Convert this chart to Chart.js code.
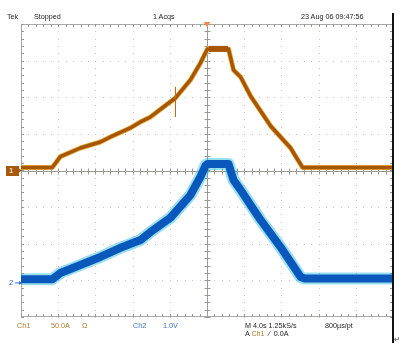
<!DOCTYPE html>
<html>
<head>
<meta charset="utf-8">
<script src="https://cdn.jsdelivr.net/npm/chart.js@4/dist/chart.umd.min.js"></script>
<style>
  html, body { margin: 0; padding: 0; background: #ffffff; }
  #wrap { position: relative; width: 405px; height: 345px; overflow: hidden; background: #fff; }
  #wrap canvas { position: absolute; left: 0; top: 0; }
  .t { position: absolute; font-family: "Liberation Sans", Arial, sans-serif; font-size: 8px; line-height: 10px; white-space: nowrap; color: #222; transform-origin: 0 50%; transform: scaleX(0.9); }
  .c1 { color: #b07a28; }
  .c2 { color: #3a6fc4; }
  #m1 { position: absolute; left: 6px; width: 13px; height: 10px; background: #a8580c; color: #fff; font-family: "Liberation Sans", Arial, sans-serif; font-size: 8px; line-height: 10px; padding-left: 3px; box-sizing: border-box; }
  #m2 { position: absolute; left: 9px; color: #3a6fc4; font-family: "Liberation Sans", Arial, sans-serif; font-size: 8px; line-height: 10px; }
  #edge { position: absolute; left: 392px; top: 13px; width: 1.5px; height: 330px; background: #111; }
</style>
</head>
<body>
<div id="wrap">
  <canvas id="c" width="405" height="345"></canvas>
  <div id="edge"></div>
  <div class="t" style="left:7px;top:12px;">Tek</div>
  <div class="t" style="left:34px;top:12px;">Stopped</div>
  <div class="t" style="left:153px;top:12px;">1 Acqs</div>
  <div class="t" style="left:301px;top:12px;">23 Aug 06 09:47:56</div>
  <div class="t c1" style="left:17px;top:321px;">Ch1</div>
  <div class="t c1" style="left:51px;top:321px;">50.0A</div>
  <div class="t c1" style="left:82px;top:321px;">Ω</div>
  <div class="t c2" style="left:133px;top:321px;">Ch2</div>
  <div class="t c2" style="left:163px;top:321px;">1.0V</div>
  <div class="t" style="left:245px;top:321px;">M 4.0s 1.25kS/s</div>
  <div class="t" style="left:325px;top:321px;">800µs/pt</div>
  <div class="t" style="left:245px;top:329px;">A <span class="c1">Ch1</span> &nbsp;⁄ &nbsp;0.0A</div>
  <div class="t" style="left:394px;top:335px;color:#444;">↵</div>
  <div id="m1">1</div>
  <div id="m2">2</div>
</div>
<script>
// Channel settings
const ch1Pos = 0.0;      // divisions
const ch1Scale = 50.0;   // A per division
const ch2Pos = -3.07;    // divisions
const ch2Scale = 1.0;    // V per division

// Ch1 (current, A) vs time (s)
const ch1Time = [-20, -16.64, -15.77, -13.62, -11.47, -10.39, -8.24, -7.16, -6.08, -4.68, -3.39, -1.78, -0.70, 0.05, 2.31, 2.85, 3.61, 4.68, 5.76, 6.84, 7.91, 8.99, 9.64, 10.28, 20];
const ch1Amps = [4.1, 4.1, 18.9, 30.7, 38.9, 45.8, 58.1, 66.3, 73.1, 86.7, 99.0, 123.6, 146.9, 166.0, 166.0, 137.3, 127.7, 101.8, 81.3, 60.8, 45.8, 30.7, 17.1, 4.1, 4.1];

// Ch1 flat top (noisier, thicker band)
const ch1TopTime = [0.2, 2.25];
const ch1TopAmps = [166.0, 166.0];

// Ch1 narrow glitch
const ch1GlitchTime = [-3.39, -3.39];
const ch1GlitchAmps = [114.0, 73.0];

// Ch2 (voltage, V) vs time (s)
const ch2Time = [-20, -16.64, -15.77, -13.62, -11.47, -9.31, -7.16, -6.08, -3.93, -1.78, -0.70, -0.16, 0.05, 2.31, 2.85, 3.61, 4.68, 5.76, 7.91, 10.07, 10.50, 20];
const ch2Volts = [0.10, 0.10, 0.27, 0.49, 0.71, 0.96, 1.17, 1.39, 1.78, 2.40, 2.90, 3.20, 3.25, 3.25, 2.81, 2.54, 2.13, 1.72, 0.98, 0.16, 0.12, 0.12];

const toPts = (ts, vs, pos, sc) => ts.map((t, i) => ({ x: t, y: vs[i] / sc + pos }));

const graticule = {
  id: 'graticule',
  beforeDatasetsDraw(chart) {
    const { ctx, chartArea: a, scales: { x, y } } = chart;
    ctx.save();
    ctx.fillStyle = '#c4c4c4';
    for (let d = -16; d <= 16; d += 4) {
      if (d === 0) continue;
      const px = Math.round(x.getPixelForValue(d));
      for (let v = -4; v <= 4.001; v += 0.2) {
        ctx.fillRect(px, Math.round(y.getPixelForValue(v)), 1, 1);
      }
    }
    for (let d = -3; d <= 3; d += 1) {
      if (d === 0) continue;
      const py = Math.round(y.getPixelForValue(d));
      for (let t = -20; t <= 20.001; t += 0.8) {
        ctx.fillRect(Math.round(x.getPixelForValue(t)), py, 1, 1);
      }
    }
    ctx.strokeStyle = '#a9a9a9';
    ctx.lineWidth = 1;
    ctx.strokeRect(Math.round(a.left) + 0.5, Math.round(a.top) + 0.5, Math.round(a.right - a.left) - 1, Math.round(a.bottom - a.top) - 1);
    const cx = Math.round(x.getPixelForValue(0)) + 0.5;
    const cy = Math.round(y.getPixelForValue(0)) + 0.5;
    ctx.strokeStyle = '#9a9a92';
    ctx.beginPath();
    ctx.moveTo(cx, a.top); ctx.lineTo(cx, a.bottom);
    ctx.moveTo(a.left, cy); ctx.lineTo(a.right, cy);
    for (let t = -20; t <= 20.001; t += 0.8) {
      const px = Math.round(x.getPixelForValue(t)) + 0.5;
      ctx.moveTo(px, cy - 3); ctx.lineTo(px, cy + 3);
      ctx.moveTo(px, a.top); ctx.lineTo(px, a.top + 3);
      ctx.moveTo(px, a.bottom); ctx.lineTo(px, a.bottom - 3);
    }
    for (let v = -4; v <= 4.001; v += 0.2) {
      const py = Math.round(y.getPixelForValue(v)) + 0.5;
      ctx.moveTo(cx - 3, py); ctx.lineTo(cx + 3, py);
      ctx.moveTo(a.left, py); ctx.lineTo(a.left + 3, py);
      ctx.moveTo(a.right, py); ctx.lineTo(a.right - 3, py);
    }
    ctx.stroke();
    ctx.restore();
  },
  afterDraw(chart) {
    const { ctx, chartArea: a, scales: { x, y } } = chart;
    ctx.save();
    const tx = x.getPixelForValue(0);
    ctx.fillStyle = '#f08a4a';
    ctx.beginPath();
    ctx.moveTo(tx - 3.5, a.top - 2); ctx.lineTo(tx + 3.5, a.top - 2); ctx.lineTo(tx, a.top + 3); ctx.closePath();
    ctx.fill();
    const y1 = y.getPixelForValue(ch1Pos);
    ctx.strokeStyle = '#a8580c'; ctx.fillStyle = '#a8580c';
    ctx.beginPath(); ctx.moveTo(17, y1); ctx.lineTo(a.left, y1); ctx.stroke();
    ctx.beginPath(); ctx.moveTo(a.left + 1, y1); ctx.lineTo(a.left - 2, y1 - 2); ctx.lineTo(a.left - 2, y1 + 2); ctx.closePath(); ctx.fill();
    const y2 = y.getPixelForValue(ch2Pos);
    ctx.strokeStyle = '#3a6fc4'; ctx.fillStyle = '#3a6fc4';
    ctx.beginPath(); ctx.moveTo(15, y2); ctx.lineTo(a.left, y2); ctx.stroke();
    ctx.beginPath(); ctx.moveTo(a.left + 1, y2); ctx.lineTo(a.left - 2, y2 - 2); ctx.lineTo(a.left - 2, y2 + 2); ctx.closePath(); ctx.fill();
    ctx.restore();
  }
};

const chart = new Chart(document.getElementById('c'), {
  type: 'line',
  data: {
    datasets: [
      { order: 6, data: toPts(ch2Time, ch2Volts, ch2Pos, ch2Scale), borderColor: 'rgba(30,185,220,0.45)', borderWidth: 12, pointRadius: 0, tension: 0, borderJoinStyle: 'round' },
      { order: 5, data: toPts(ch2Time, ch2Volts, ch2Pos, ch2Scale), borderColor: '#0b58bc', borderWidth: 8, pointRadius: 0, tension: 0, borderJoinStyle: 'round' },
      { order: 4, data: toPts(ch1Time, ch1Amps, ch1Pos, ch1Scale), borderColor: '#e3b23c', borderWidth: 5, pointRadius: 0, tension: 0, borderJoinStyle: 'round' },
      { order: 3, data: toPts(ch1Time, ch1Amps, ch1Pos, ch1Scale), borderColor: '#a85508', borderWidth: 3.5, pointRadius: 0, tension: 0, borderJoinStyle: 'round' },
      { order: 2, data: toPts(ch1TopTime, ch1TopAmps, ch1Pos, ch1Scale), borderColor: '#a85508', borderWidth: 6, pointRadius: 0, tension: 0 },
      { order: 1, data: toPts(ch1GlitchTime, ch1GlitchAmps, ch1Pos, ch1Scale), borderColor: '#b8701a', borderWidth: 1, pointRadius: 0, tension: 0 }
    ]
  },
  options: {
    responsive: false,
    animation: false,
    events: [],
    layout: { padding: { left: 21, right: 12, top: 24, bottom: 28 } },
    plugins: { legend: { display: false }, tooltip: { enabled: false } },
    scales: {
      x: { type: 'linear', min: -20, max: 20, display: false },
      y: { type: 'linear', min: -4, max: 4, display: false }
    }
  },
  plugins: [graticule]
});

const m1 = document.getElementById('m1');
m1.style.top = (chart.scales.y.getPixelForValue(ch1Pos) - 5) + 'px';
const m2 = document.getElementById('m2');
m2.style.top = (chart.scales.y.getPixelForValue(ch2Pos) - 5) + 'px';
</script>
</body>
</html>
